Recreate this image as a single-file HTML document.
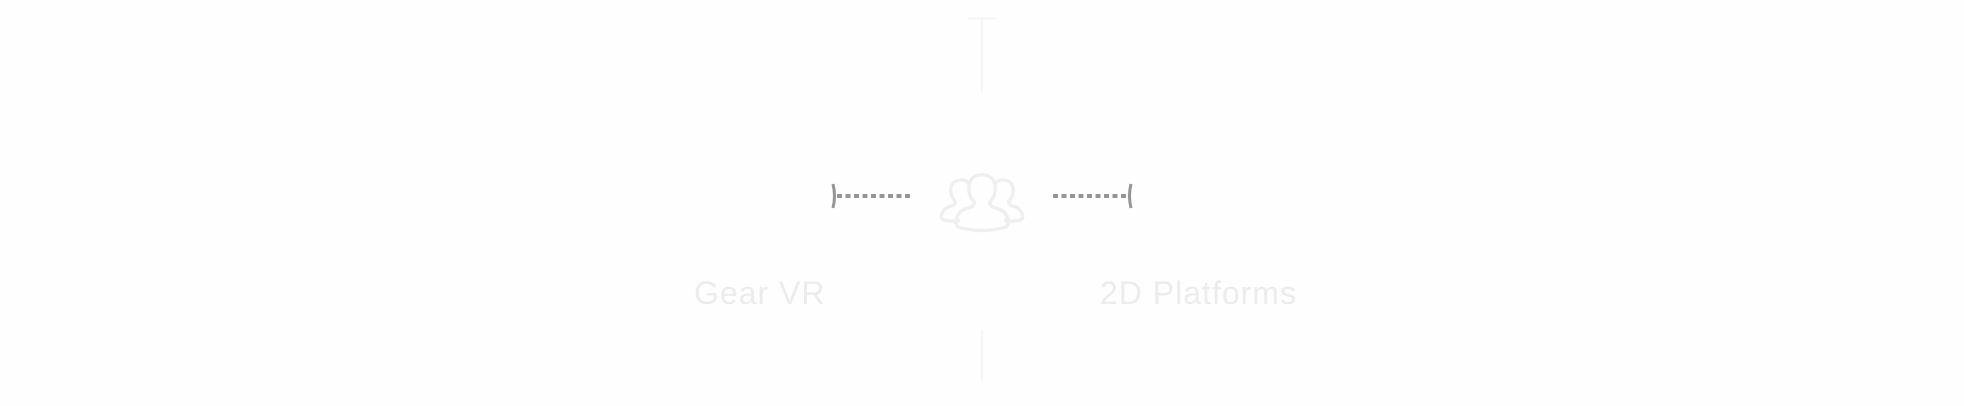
<!DOCTYPE html>
<html><head><style>
html,body{margin:0;padding:0;background:#fefefe;width:1964px;height:406px;overflow:hidden}
.t{position:absolute;font-family:"Liberation Sans",sans-serif;font-size:32px;letter-spacing:1px;color:#ececec;top:275px;line-height:36px}
</style></head><body>
<svg width="1964" height="406" style="position:absolute;left:0;top:0">
<g stroke="#f3f3f3" stroke-width="1.5" fill="none">
<line x1="968" y1="18.5" x2="997" y2="18.5"/>
<line x1="982" y1="19" x2="982" y2="91"/>
<line x1="982" y1="330" x2="982" y2="381"/>
</g>
<g stroke="#959595" stroke-width="4" fill="none">
<line x1="837" y1="196" x2="911" y2="196" stroke-dasharray="5,3.5"/>
<line x1="1053" y1="196" x2="1128" y2="196" stroke-dasharray="5,3.5"/>
<path d="M833,184 Q836,196 833,208" stroke-width="3"/>
<path d="M1131,184 Q1128,196 1131,208" stroke-width="3"/>
</g>
<g transform="translate(982,202) scale(1.3) translate(-982,-197)" stroke="#efefef" stroke-width="2.6" fill="none" stroke-linejoin="round">
<path d="M982,176 c-7,0 -11,5 -10,12 c0,4 2,7 4,9 c0,3 -2,4 -6,5 c-6,2 -8,6 -8,11 c0,2 1,3 4,4 c5,1 11,2 16,2 c5,0 11,-1 16,-2 c3,-1 4,-2 4,-4 c0,-5 -2,-9 -8,-11 c-4,-1 -6,-2 -6,-5 c2,-2 4,-5 4,-9 c1,-7 -3,-12 -10,-12 z"/>
<path d="M965,211 c-4,1 -8,1 -12,0 c-2,-1 -3,-2 -2,-4 c1,-4 3,-6 8,-7 c2,-1 3,-2 2,-4 c-2,-2 -3,-5 -3,-8 c0,-5 3,-8 8,-8 c3,0 5,1 6,3"/>
<path d="M999,211 c4,1 8,1 12,0 c2,-1 3,-2 2,-4 c-1,-4 -3,-6 -8,-7 c-2,-1 -3,-2 -2,-4 c2,-2 3,-5 3,-8 c0,-5 -3,-8 -8,-8 c-3,0 -5,1 -6,3"/>
</g>
</svg>
<div class="t" style="left:694px">Gear VR</div>
<div class="t" style="left:1100px">2D Platforms</div>
</body></html>
